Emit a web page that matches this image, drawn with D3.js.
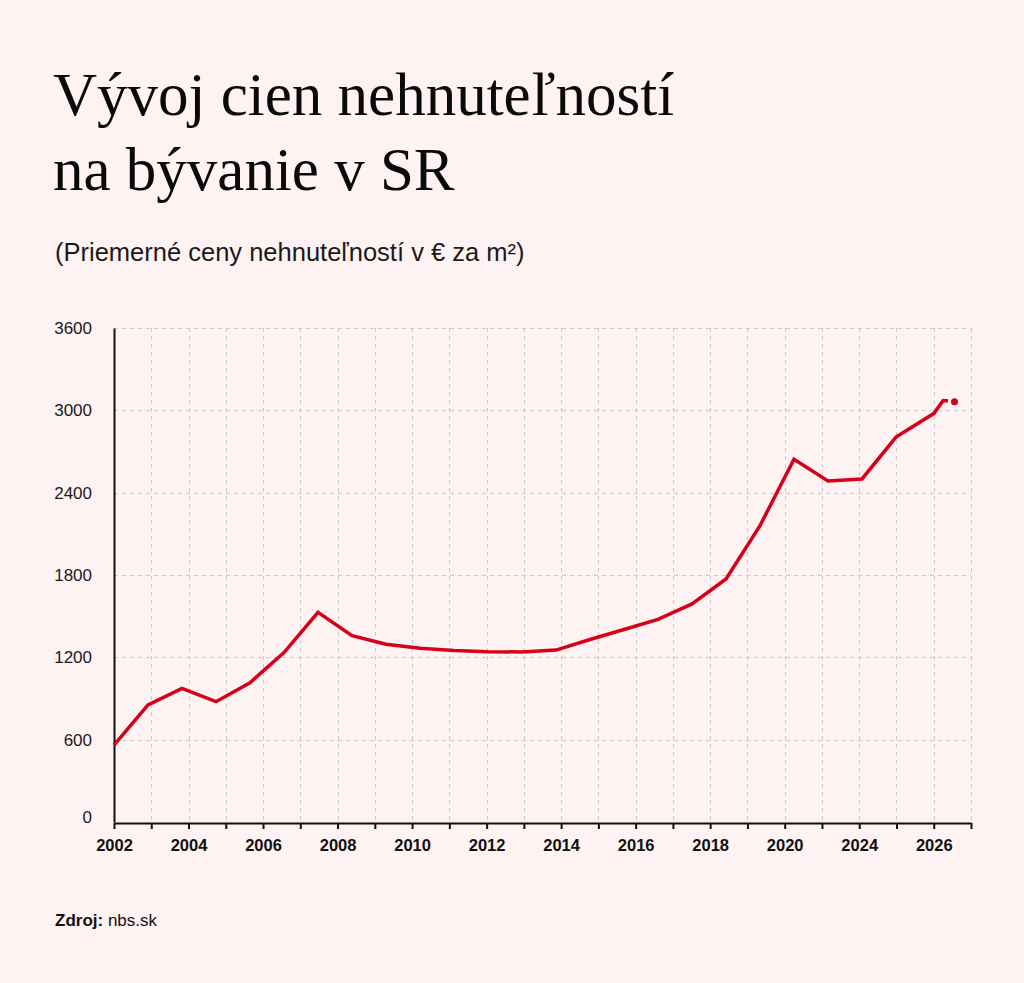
<!DOCTYPE html>
<html>
<head>
<meta charset="utf-8">
<script src="https://cdn.jsdelivr.net/npm/d3@7/dist/d3.min.js"></script>
<style>
  html, body { margin: 0; padding: 0; background: #fef2f2; }
  svg { display: block; }
</style>
</head>
<body>
<svg id="chart" width="1024" height="983"></svg>
<script>
// ---- Data ----
const titleLines = ["Vývoj cien nehnuteľností", "na bývanie v SR"];
const subtitle = "(Priemerné ceny nehnuteľností v € za m²)";
const sourceLabel = "Zdroj:";
const sourceText = " nbs.sk";

// x-axis categories (tick marks) and the labels shown on every other tick
const axisTickCount = 24;
const axisTickLabels = ["2002", "2004", "2006", "2008", "2010", "2012", "2014", "2016", "2018", "2020", "2024", "2026"];

const yTicks = [0, 600, 1200, 1800, 2400, 3000, 3600];

// price series (period in years, value in € / m²)
const periods = [2002, 2003, 2004, 2005, 2006, 2007, 2008, 2009, 2010, 2011, 2012, 2013,
                 2014, 2015, 2016, 2017, 2018, 2019, 2020, 2021, 2022, 2023, 2024, 2025,
                 2026.12, 2026.38, 2026.53];
const prices  = [561, 853, 974, 877, 1015, 1235, 1528, 1358, 1295, 1266, 1250, 1241,
                 1239, 1253, 1330, 1403, 1477, 1589, 1771, 2160, 2643, 2485, 2500, 2805,
                 2978, 3070, 3070];
const latestPeriod = [2026.72];
const latestPrice = [3062];

// ---- Layout ----
const svg = d3.select("#chart");
const mLeft = 114, mRight = 971, mTop = 328, mBottom = 822;
const red = "#d5001a";
const sans = "'Liberation Sans', Arial, Helvetica, sans-serif";

svg.append("rect").attr("width", 1024).attr("height", 983).attr("fill", "#fef2f2");

// Titles
const title = svg.append("text")
  .attr("font-family", "'Liberation Serif', 'Times New Roman', serif")
  .attr("font-size", 61)
  .attr("fill", "#0a0a0a");
titleLines.forEach((t, i) => {
  title.append("tspan").attr("x", 53).attr("y", 115 + i * 75).text(t);
});

svg.append("text")
  .attr("x", 55).attr("y", 261)
  .attr("font-family", sans)
  .attr("font-size", 25.5)
  .attr("fill", "#1a1a1a")
  .text(subtitle);

// Scales
const yScale = d3.scaleLinear().domain([0, 3600]).range([mBottom, mTop]);
const axisScale = d3.scalePoint().domain(d3.range(axisTickCount)).range([mLeft, mRight]);
const xScale = d3.scaleLinear().domain([2002, 2025]).range([mLeft, 896]);

// Gridlines
const grid = svg.append("g").attr("stroke", "#c9c9c9").attr("stroke-width", 1)
  .attr("stroke-dasharray", "4,4").attr("fill", "none");
grid.selectAll("line.h").data(yTicks.slice(1)).join("line")
  .attr("class", "h")
  .attr("x1", mLeft).attr("x2", mRight)
  .attr("y1", d => Math.round(yScale(d)) + 0.5).attr("y2", d => Math.round(yScale(d)) + 0.5);
grid.selectAll("line.v").data(d3.range(1, axisTickCount)).join("line")
  .attr("class", "v")
  .attr("x1", d => Math.round(axisScale(d)) + 0.5).attr("x2", d => Math.round(axisScale(d)) + 0.5)
  .attr("y1", mTop).attr("y2", mBottom);

// Y axis
const yAxis = d3.axisLeft(yScale).tickValues(yTicks).tickSize(0).tickPadding(22).tickFormat(d3.format("d"));
const yG = svg.append("g").attr("transform", `translate(${mLeft},0)`).call(yAxis);
yG.select(".domain").attr("stroke", "#111").attr("stroke-width", 2);
yG.selectAll("text")
  .attr("font-family", sans)
  .attr("font-size", 17).attr("fill", "#1a1a1a")
  .attr("dy", d => (d === 0 ? "0.05em" : "0.32em"));

// X axis
const xAxis = d3.axisBottom(axisScale).tickSize(6).tickSizeOuter(0).tickPadding(10)
  .tickFormat(i => (i % 2 === 0 ? axisTickLabels[i / 2] : ""));
const xG = svg.append("g").attr("transform", `translate(0,${mBottom + 1})`).call(xAxis);
xG.select(".domain").attr("stroke", "#111").attr("stroke-width", 2);
xG.selectAll(".tick line").attr("stroke", "#111").attr("stroke-width", 2);
xG.selectAll("text")
  .attr("font-family", sans)
  .attr("font-size", 16.5).attr("font-weight", "bold").attr("fill", "#111");

// Line
const series = periods.map((p, i) => ({ p, v: prices[i] }));
const line = d3.line().x(d => xScale(d.p)).y(d => yScale(d.v));
svg.append("path").datum(series)
  .attr("d", line)
  .attr("fill", "none")
  .attr("stroke", red)
  .attr("stroke-width", 3.5)
  .attr("stroke-linejoin", "miter");

svg.selectAll("circle.latest").data(latestPeriod.map((p, i) => ({ p, v: latestPrice[i] }))).join("circle")
  .attr("class", "latest")
  .attr("cx", d => xScale(d.p)).attr("cy", d => yScale(d.v))
  .attr("r", 3.5).attr("fill", red);

// Source
const src = svg.append("text")
  .attr("x", 55).attr("y", 926)
  .attr("font-family", sans)
  .attr("font-size", 17).attr("fill", "#111");
src.append("tspan").attr("font-weight", "bold").text(sourceLabel);
src.append("tspan").text(sourceText);
</script>
</body>
</html>
